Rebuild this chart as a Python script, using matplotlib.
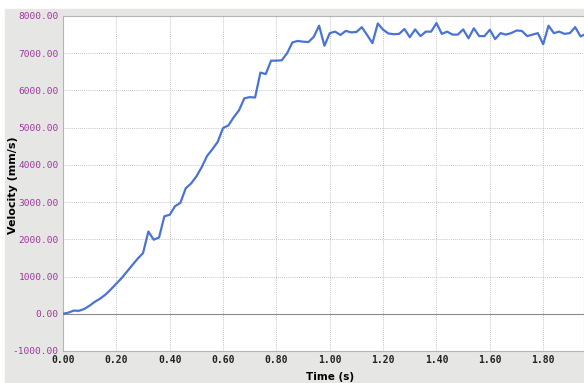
import matplotlib
matplotlib.use("Agg")
import matplotlib.pyplot as plt
from matplotlib.patches import Rectangle

# sampled every 0.02 s
time_s = [round(0.02 * i, 2) for i in range(99)]
velocity = [
    0, 30, 85, 80, 130, 220, 325, 410, 520, 660,
    810, 960, 1135, 1310, 1480, 1630, 2210, 1990, 2050, 2620,
    2660, 2890, 2980, 3370, 3500, 3690, 3940, 4240, 4420, 4620,
    4990, 5060, 5280, 5470, 5790, 5820, 5810, 6480, 6440, 6800,
    6800, 6810, 7000, 7290, 7330, 7310, 7300, 7440, 7740, 7200,
    7540, 7580, 7490, 7600, 7560, 7570, 7700, 7490, 7270, 7800,
    7630, 7530, 7510, 7520, 7650, 7430, 7640, 7460, 7580, 7580,
    7810, 7520, 7580, 7500, 7500, 7640, 7400, 7670, 7460, 7460,
    7630, 7380, 7540, 7500, 7540, 7610, 7600, 7460, 7500, 7540,
    7240, 7740, 7540, 7580, 7520, 7540, 7700, 7450, 7520,
]
x_ticks = [0.0, 0.2, 0.4, 0.6, 0.8, 1.0, 1.2, 1.4, 1.6, 1.8]
y_ticks = list(range(-1000, 8001, 1000))

fig = plt.figure(figsize=(5.84, 3.83), dpi=100, facecolor="white")
# grey panel behind the plot
fig.patches.append(Rectangle((5 / 584, 0), 1, (383 - 9) / 383,
                             transform=fig.transFigure, color="#e6e6e4", zorder=-5))

ax = fig.add_axes([63 / 584, 32 / 383, 1 - 63 / 584, 335 / 383])
ax.set_zorder(2)
ax.set_facecolor("white")
ax.plot(time_s, velocity, color="#4a74d4", lw=1.6, zorder=3)

ax.set_xlim(0, 1.953)
ax.set_ylim(-1000, 8000)
ax.set_xticks(x_ticks)
ax.set_yticks(y_ticks)
ax.set_xticklabels([f"{v:.2f}" for v in x_ticks], family="DejaVu Sans Mono",
                   fontsize=7, fontweight="bold", color="#222222")
ax.set_yticklabels([f"{v:.2f}" for v in y_ticks], family="DejaVu Sans Mono",
                   fontsize=6.8, color="#9b3a9b")
ax.tick_params(length=0, pad=3)

ax.grid(True, color="#b0b0b0", linestyle=(0, (1, 1.5)), lw=0.6)
ax.axhline(0, color="#8c8c8c", lw=0.8, zorder=2)
for s in ax.spines.values():
    s.set_color("#b4b4b4")
    s.set_linewidth(0.8)

fig.text(330 / 584, 1 - 377 / 383, "Time (s)", fontsize=7.5, fontweight="bold",
         ha="center", va="center")
fig.text(13 / 584, 1 - 185 / 383, "Velocity (mm/s)", rotation=90, fontsize=8,
         fontweight="bold", ha="center", va="center")

fig.savefig("out.png", dpi=100, facecolor=fig.get_facecolor())
